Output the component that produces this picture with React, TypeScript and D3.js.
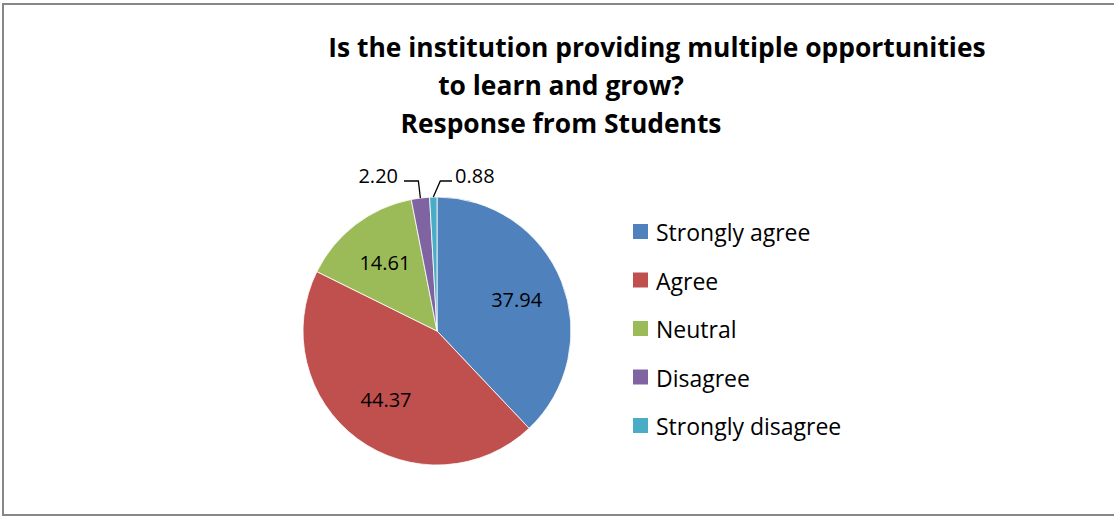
import React from 'react';
import * as d3 from 'd3';

const categories = ['Strongly agree', 'Agree', 'Neutral', 'Disagree', 'Strongly disagree'];
const values = [37.94, 44.37, 14.61, 2.2, 0.88];
const colors = ['#4F81BD', '#C0504D', '#9BBB59', '#8064A2', '#4BACC6'];
const titleLines = [
    'Is the institution providing multiple opportunities',
    'to learn and grow?',
    'Response from Students'
];

const W = 1114;
const H = 517;
const cx = 437;
const cy = 331;
const radius = 134;
const font = '"Open Sans", "Noto Sans", sans-serif';

// title line centers / baselines (Excel wraps it a bit oddly)
const titlePos = [
    { x: 657, y: 57 },
    { x: 561, y: 95 },
    { x: 561, y: 133 }
];

// outside labels for thin slices
const outside: Record<number, { elbowDx: number; endX: number; side: 'left' | 'right' }> = {
    3: { elbowDx: -2, endX: 404, side: 'left' },
    4: { elbowDx: 7, endX: 452, side: 'right' }
};

const App: React.FC = () => {
    const pie = d3.pie<number>().sort(null).value(d => d);
    const arcs = pie(values);
    const arc = d3.arc<d3.PieArcDatum<number>>().innerRadius(0).outerRadius(radius);
    const labelArc = d3.arc<d3.PieArcDatum<number>>().innerRadius(radius * 0.64).outerRadius(radius * 0.64);

    const legendY = d3.scalePoint<string>().domain(categories).range([232, 426]);

    return (
        <svg width={W} height={H} style={{ position: 'absolute', left: 0, top: 0, background: '#fff' }}>
            <rect x={3} y={4} width={1120} height={511} fill="#fff" stroke="#878787" strokeWidth={2} />

            {titleLines.map((t, i) => (
                <text key={t} x={titlePos[i].x} y={titlePos[i].y} textAnchor="middle"
                    fontFamily={font} fontWeight="bold" fontSize={26.4} fill="#000">{t}</text>
            ))}

            <g transform={`translate(${cx},${cy})`}>
                {arcs.map((a, i) => (
                    <path key={categories[i]} d={arc(a) || ''} fill={colors[i]} stroke="#fff" strokeWidth={0.8} />
                ))}
                {arcs.map((a, i) => {
                    const label = values[i].toFixed(2);
                    if (outside[i]) {
                        const o = outside[i];
                        const mid = (a.startAngle + a.endAngle) / 2;
                        const px = Math.sin(mid) * radius;
                        const py = -Math.cos(mid) * radius;
                        const ey = 181 - cy;
                        const ex = px + o.elbowDx;
                        const endX = o.endX - cx;
                        return (
                            <g key={'l' + i}>
                                <polyline points={`${px},${py} ${ex},${ey} ${endX},${ey}`} fill="none" stroke="#000" strokeWidth={1.3} />
                                <text x={o.side === 'left' ? endX - 6 : endX + 3} y={ey - 6} textAnchor={o.side === 'left' ? 'end' : 'start'}
                                    dominantBaseline="central" fontFamily={font} fontSize={20} fill="#000">{label}</text>
                            </g>
                        );
                    }
                    const [lx, ly] = labelArc.centroid(a);
                    return (
                        <text key={'l' + i} x={lx} y={ly} textAnchor="middle" dominantBaseline="central"
                            fontFamily={font} fontSize={20} fill="#000">{label}</text>
                    );
                })}
            </g>

            {categories.map((c, i) => (
                <g key={c} transform={`translate(633,${legendY(c)})`}>
                    <rect x={0} y={-8} width={15} height={15} fill={colors[i]} />
                    <text x={23} y={0} dominantBaseline="central" fontFamily={font} fontSize={23} fill="#000">{c}</text>
                </g>
            ))}
        </svg>
    );
};

export default App;
